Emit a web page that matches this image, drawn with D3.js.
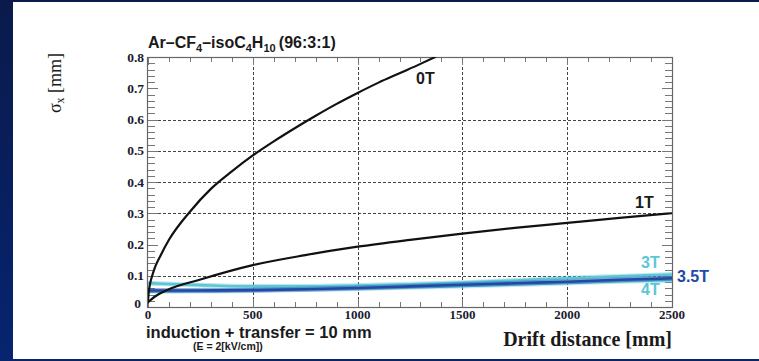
<!DOCTYPE html>
<html>
<head>
<meta charset="utf-8">
<script src="https://cdn.jsdelivr.net/npm/d3@7"></script>
<style>
  html, body { margin: 0; padding: 0; background: #0b1c52; }
  svg { display: block; }
</style>
</head>
<body>
<div id="chart"></div>
<script>
// drift distance in mm, sigma_x in mm
const drift0T = [0, 4, 10, 20, 35, 60, 100, 200, 300, 400, 500, 600, 700, 800, 900, 1000, 1100, 1200, 1300, 1370];
const sigma0T = [0.02, 0.05, 0.075, 0.1, 0.13, 0.165, 0.215, 0.305, 0.378, 0.434, 0.485, 0.53, 0.572, 0.612, 0.65, 0.685, 0.718, 0.748, 0.778, 0.8];

const drift1T = [0, 30, 90, 250, 500, 750, 1000, 1250, 1500, 1750, 2000, 2250, 2500];
const sigma1T = [0.015, 0.032, 0.054, 0.088, 0.134, 0.166, 0.193, 0.215, 0.235, 0.253, 0.269, 0.285, 0.3];

const driftLow = [0, 250, 500, 750, 1000, 1250, 1500, 1750, 2000, 2250, 2500];
const sigma3T = [0.076, 0.07, 0.066, 0.066, 0.069, 0.073, 0.078, 0.085, 0.092, 0.098, 0.104];
const sigma35T = [0.053, 0.053, 0.054, 0.057, 0.061, 0.066, 0.071, 0.076, 0.081, 0.087, 0.092];
const sigma4T = [0.05, 0.051, 0.053, 0.056, 0.059, 0.063, 0.067, 0.072, 0.077, 0.082, 0.086];

const xTicks = [0, 500, 1000, 1500, 2000, 2500];
const yTicks = [0, 0.1, 0.2, 0.3, 0.4, 0.5, 0.6, 0.7, 0.8];
const xGrid = [500, 1000, 1500, 2000];
const yGrid = [0.1, 0.3, 0.4, 0.5, 0.6];

const width = 759, height = 361;
const plot = { left: 148, right: 672, top: 57, bottom: 307 };

const svg = d3.select('#chart').append('svg')
    .attr('width', width)
    .attr('height', height);

// slide background: navy top, blue left strip, white panel
const defs = svg.append('defs');
const grad = defs.append('linearGradient').attr('id', 'strip')
    .attr('x1', 0).attr('y1', 0).attr('x2', 0).attr('y2', 1);
grad.append('stop').attr('offset', '0%').attr('stop-color', '#0a1a4c');
grad.append('stop').attr('offset', '100%').attr('stop-color', '#062470');
svg.append('rect').attr('width', width).attr('height', height).attr('fill', 'url(#strip)');
svg.append('rect').attr('x', 13).attr('y', 2).attr('width', width - 13).attr('height', 357).attr('fill', '#ffffff');

defs.append('clipPath').attr('id', 'plotclip').append('rect')
    .attr('x', plot.left).attr('y', plot.top)
    .attr('width', plot.right - plot.left).attr('height', plot.bottom - plot.top);

const x = d3.scaleLinear().domain([0, 2500]).range([plot.left, plot.right]);
const y = d3.scaleLinear().domain([0, 0.8]).range([plot.bottom, plot.top]);

// grid
const grid = svg.append('g').attr('stroke', '#444').attr('stroke-width', 1).attr('stroke-dasharray', '3,2');
grid.selectAll('.gx').data(xGrid).join('line')
    .attr('x1', d => Math.round(x(d)) + 0.5).attr('x2', d => Math.round(x(d)) + 0.5)
    .attr('y1', plot.top).attr('y2', plot.bottom);
grid.selectAll('.gy').data(yGrid).join('line')
    .attr('y1', d => Math.round(y(d)) + 0.5).attr('y2', d => Math.round(y(d)) + 0.5)
    .attr('x1', plot.left).attr('x2', plot.right);

// ticks inside the frame, ROOT style
const xMinor = d3.range(0, 2501, 100);
const yMinor = d3.range(0, 0.8001, 0.02);
const isMajorY = d => Math.abs(d * 10 - Math.round(d * 10)) < 1e-6;
const ticks = svg.append('g').attr('stroke', '#777').attr('stroke-width', 1);
ticks.selectAll('.xb').data(xMinor).join('line')
    .attr('x1', d => Math.round(x(d)) + 0.5).attr('x2', d => Math.round(x(d)) + 0.5)
    .attr('y1', plot.bottom).attr('y2', d => plot.bottom - (d % 500 === 0 ? 8 : 5));
ticks.selectAll('.xt').data(xMinor).join('line')
    .attr('x1', d => Math.round(x(d)) + 0.5).attr('x2', d => Math.round(x(d)) + 0.5)
    .attr('y1', plot.top).attr('y2', d => plot.top + (d % 500 === 0 ? 8 : 5));
ticks.selectAll('.yl').data(yMinor).join('line')
    .attr('y1', d => Math.round(y(d)) + 0.5).attr('y2', d => Math.round(y(d)) + 0.5)
    .attr('x1', plot.left).attr('x2', d => plot.left + (isMajorY(d) ? 10 : 7));
ticks.selectAll('.yr').data(yMinor).join('line')
    .attr('y1', d => Math.round(y(d)) + 0.5).attr('y2', d => Math.round(y(d)) + 0.5)
    .attr('x1', plot.right).attr('x2', d => plot.right - (isMajorY(d) ? 10 : 7));

// frame
svg.append('rect')
    .attr('x', plot.left - 0.5).attr('y', plot.top + 0.5)
    .attr('width', plot.right - plot.left + 1).attr('height', plot.bottom - plot.top)
    .attr('fill', 'none').attr('stroke', '#666').attr('stroke-width', 1.2);

// tick labels
const tickFont = "'Liberation Serif', 'DejaVu Serif', serif";
svg.append('g').selectAll('text').data(xTicks).join('text')
    .attr('x', d => x(d)).attr('y', 319)
    .attr('text-anchor', 'middle')
    .attr('font-family', tickFont).attr('font-weight', 'bold').attr('font-size', 13)
    .attr('fill', '#1c1c30')
    .text(d => d);
svg.append('g').selectAll('text').data(yTicks).join('text')
    .attr('x', d => d === 0 ? 141 : 144)
    .attr('y', d => y(d) + (d === 0 ? 1 : 4.5))
    .attr('text-anchor', 'end')
    .attr('font-family', tickFont).attr('font-weight', 'bold').attr('font-size', 13.5)
    .attr('fill', '#1c1c30')
    .text(d => d === 0 ? '0' : d.toFixed(1));

// curves
const line = d3.line().x(d => x(d[0])).y(d => y(d[1])).curve(d3.curveMonotoneX);
const curves = svg.append('g').attr('clip-path', 'url(#plotclip)').attr('fill', 'none')
    .attr('stroke-linecap', 'round');

const lowSeries = [
    { values: sigma4T, color: '#5cc6d6' },
    { values: sigma3T, color: '#5cc6d6' },
    { values: sigma35T, color: '#2448a6' },
];
lowSeries.forEach(s => {
    const pts = d3.zip(driftLow, s.values);
    curves.append('path').attr('d', line(pts))
        .attr('stroke', s.color).attr('stroke-opacity', 0.4).attr('stroke-width', 5);
    curves.append('path').attr('d', line(pts))
        .attr('stroke', s.color).attr('stroke-width', 2.6);
});

curves.append('path').attr('d', line(d3.zip(drift1T, sigma1T)))
    .attr('stroke', '#111').attr('stroke-width', 2.2);
curves.append('path').attr('d', line(d3.zip(drift0T, sigma0T)))
    .attr('stroke', '#111').attr('stroke-width', 2.2);

// curve labels
const labelFont = "'Liberation Sans', Arial, sans-serif";
const labels = [
    { text: '0T', x: 416, y: 84, color: '#1a1a1a' },
    { text: '1T', x: 635, y: 208, color: '#1a1a1a' },
    { text: '3T', x: 641, y: 268, color: '#5cc6d6' },
    { text: '3.5T', x: 677, y: 282, color: '#2448a6' },
    { text: '4T', x: 641, y: 295, color: '#5cc6d6' },
];
svg.append('g').selectAll('text').data(labels).join('text')
    .attr('x', d => d.x).attr('y', d => d.y)
    .attr('font-family', labelFont).attr('font-weight', 'bold').attr('font-size', 16)
    .attr('fill', d => d.color)
    .text(d => d.text);

// title with subscripts
const title = svg.append('text')
    .attr('x', 148).attr('y', 48)
    .attr('font-family', labelFont).attr('font-weight', 'bold').attr('font-size', 16)
    .attr('fill', '#1a1a1a');
const titleParts = [['Ar\u2013CF', 0], ['4', 1], ['\u2013isoC', 0], ['4', 1], ['H', 0], ['10', 1], ['\u2009(96:3:1)', 0]];
let shifted = false;
titleParts.forEach(([t, sub]) => {
    const dy = sub ? (shifted ? 0 : 4) : (shifted ? -4 : 0);
    shifted = !!sub;
    title.append('tspan')
        .attr('font-size', sub ? 11 : 16)
        .attr('dy', dy)
        .text(t);
});

// axis titles
const yTitle = svg.append('text')
    .attr('transform', 'translate(61,83) rotate(-90)')
    .attr('text-anchor', 'middle')
    .attr('font-family', tickFont).attr('font-size', 18)
    .attr('fill', '#1a1a1a');
yTitle.append('tspan').text('\u03c3');
yTitle.append('tspan').attr('font-size', 12).attr('dy', 3).text('x');
yTitle.append('tspan').attr('dy', -3).text(' [mm]');

svg.append('text')
    .attr('x', 672).attr('y', 346)
    .attr('text-anchor', 'end')
    .attr('font-family', tickFont).attr('font-weight', 'bold').attr('font-size', 20)
    .attr('fill', '#1a1a1a')
    .text('Drift distance [mm]');

svg.append('text')
    .attr('x', 146).attr('y', 338)
    .attr('font-family', labelFont).attr('font-weight', 'bold').attr('font-size', 16.5)
    .attr('fill', '#1a1a1a')
    .text('induction + transfer = 10 mm');

svg.append('text')
    .attr('x', 193).attr('y', 350)
    .attr('font-family', labelFont).attr('font-weight', 'bold').attr('font-size', 10.5)
    .attr('fill', '#1a1a1a')
    .text('(E = 2[kV/cm])');
</script>
</body>
</html>
